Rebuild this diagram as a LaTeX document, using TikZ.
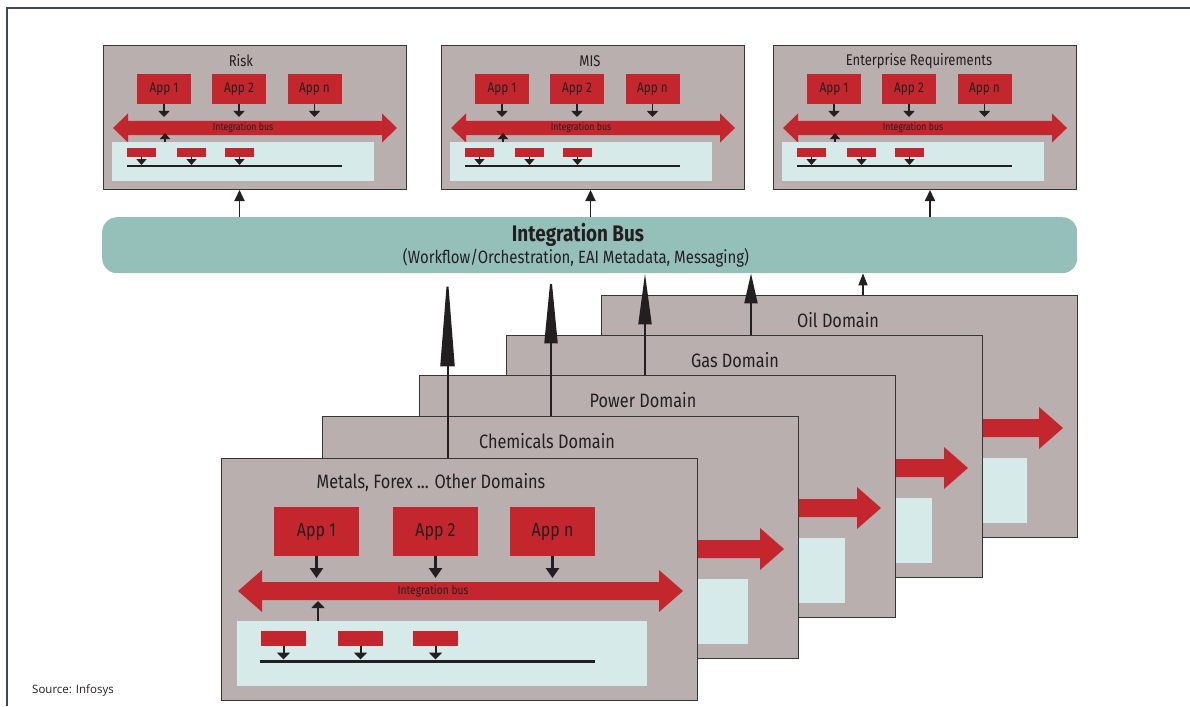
\documentclass[tikz,border=0pt]{standalone}
\usepackage{fontspec}
\setmainfont{Fira Sans}[FakeStretch=0.84]
\newfontfamily\srcfont{Open Sans}
\usetikzlibrary{arrows.meta,calc}
\definecolor{boxgray}{HTML}{B9AFAF}
\definecolor{boxline}{HTML}{3A3535}
\definecolor{busred}{HTML}{C4262E}
\definecolor{paleteal}{HTML}{D6EAEA}
\definecolor{busteal}{HTML}{95C0BA}
\definecolor{framecol}{HTML}{3D4756}
\definecolor{ink}{HTML}{231F20}
\newcommand\fsz[1]{\fontsize{#1}{#1}\selectfont}
\newif\ifdomtext
\tikzset{
  sysbox/.style={draw=boxline, line width=1pt, fill=boxgray, anchor=north west, inner sep=0pt, minimum width=303pt, minimum height=144pt},
  dombox/.style={draw=boxline, line width=1pt, fill=boxgray, anchor=north west, inner sep=0pt, minimum width=476pt, minimum height=242pt},
  appS/.style={fill=busred, inner sep=0pt, minimum width=54pt, minimum height=30pt, text=ink, font=\fsz{14}},
  appL/.style={fill=busred, inner sep=0pt, minimum width=85pt, minimum height=49pt, text=ink, font=\fsz{19}},
  panelS/.style={fill=paleteal, anchor=north west, inner sep=0pt, minimum width=262pt, minimum height=39pt},
  panelL/.style={fill=paleteal, anchor=north west, inner sep=0pt, minimum width=410pt, minimum height=65pt},
  chipS/.style={fill=busred, inner sep=0pt, minimum width=29pt, minimum height=9pt},
  chipL/.style={fill=busred, inner sep=0pt, minimum width=45pt, minimum height=15pt},
  arrS/.style={draw=ink, line width=1.8pt, -{Triangle[length=6pt,width=11pt]}},
  arrSc/.style={draw=ink, line width=1.5pt, -{Triangle[length=6pt,width=10pt]}},
  arrL/.style={draw=ink, line width=2.6pt, -{Triangle[length=10pt,width=13pt]}},
  arrLc/.style={draw=ink, line width=2pt, -{Triangle[length=7pt,width=13pt]}},
  railS/.style={draw=ink, line width=2.4pt},
  railL/.style={draw=ink, line width=3pt},
  bustxtS/.style={text=ink, inner sep=0pt, font=\fsz{10.4}},
  bustxtL/.style={text=ink, inner sep=0pt, font=\fsz{12.2}},
  systitle/.style={text=ink, inner sep=0pt, font=\fsz{15.5}},
  domtitle/.style={text=ink, inner sep=0pt, font=\fsz{19.4}},
  vconn/.style={draw=ink, line width=2pt},
  upconn/.style={draw=ink, line width=1.8pt, -{Triangle[length=11pt,width=10pt]}}
}
% #1 name, #2 x, #3 y, #4 title, #5 title x (local)
\newcommand\sysbox[5]{%
\begin{scope}[shift={(#2,#3)}]
  \node[sysbox] (#1) at (0,0) {};
  \node[systitle] (#1-t) at (#5,16) {#4};
  \node[appS] (#1-a1) at (61,44) {App 1};
  \node[appS] (#1-a2) at (136,44) {App 2};
  \node[appS] (#1-a3) at (211.5,44) {App n};
  \fill[busred] (10,83) -- (25,68.5) -- (25,76) -- (279,76) -- (279,68.5) -- (294,83)
     -- (279,97.5) -- (279,90) -- (25,90) -- (25,97.5) -- cycle;
  \node[bustxtS] (#1-bt) at (140,83) {Integration bus};
  \coordinate (#1-d1) at (61,72);
  \coordinate (#1-d2) at (136,72);
  \coordinate (#1-d3) at (211.5,72);
  \draw[arrS] (#1-a1.south) -- (#1-d1);
  \draw[arrS] (#1-a2.south) -- (#1-d2);
  \draw[arrS] (#1-a3.south) -- (#1-d3);
  \node[panelS] (#1-p) at (9,97) {};
  \node[chipS] (#1-c1) at (38.5,107.5) {};
  \node[chipS] (#1-c2) at (88.5,107.5) {};
  \node[chipS] (#1-c3) at (136.5,107.5) {};
  \coordinate (#1-r0) at (24,121);
  \coordinate (#1-r1) at (239,121);
  \draw[railS] (#1-r0) -- (#1-r1);
  \draw[arrSc] (#1-c1.south) -- ([yshift=1pt]#1-c1.south |- #1-r0);
  \draw[arrSc] (#1-c2.south) -- ([yshift=1pt]#1-c2.south |- #1-r0);
  \draw[arrSc] (#1-c3.south) -- ([yshift=1pt]#1-c3.south |- #1-r0);
  \coordinate (#1-u0) at (62,97);
  \coordinate (#1-u1) at (62,88);
  \draw[arrSc] (#1-u0) -- (#1-u1);
\end{scope}}
% #1 name, #2 x, #3 y, #4 title, #5 title x (local)
\newcommand\dombox[5]{%
\begin{scope}[shift={(#2,#3)}]
  \node[dombox] (#1) at (0,0) {};
  \node[domtitle] (#1-t) at (#5,25) {#4};
  \ifdomtext
    \node[appL] (#1-a1) at (95.5,73.5) {App 1};
    \node[appL] (#1-a2) at (214.5,73.5) {App 2};
    \node[appL] (#1-a3) at (331.5,73.5) {App n};
  \else
    \node[appL] (#1-a1) at (95.5,73.5) {};
    \node[appL] (#1-a2) at (214.5,73.5) {};
    \node[appL] (#1-a3) at (331.5,73.5) {};
  \fi
  \fill[busred] (17,133) -- (41,112) -- (41,124) -- (438,124) -- (438,112) -- (462,133)
     -- (438,154) -- (438,142) -- (41,142) -- (41,154) -- cycle;
  \ifdomtext
    \node[bustxtL] (#1-bt) at (212,133) {Integration bus};
  \fi
  \coordinate (#1-d1) at (95.5,120);
  \coordinate (#1-d2) at (214.5,120);
  \coordinate (#1-d3) at (331.5,120);
  \draw[arrL] (#1-a1.south) -- (#1-d1);
  \draw[arrL] (#1-a2.south) -- (#1-d2);
  \draw[arrL] (#1-a3.south) -- (#1-d3);
  \node[panelL] (#1-p) at (16,163) {};
  \node[chipL] (#1-c1) at (62.5,180.5) {};
  \node[chipL] (#1-c2) at (139.5,180.5) {};
  \node[chipL] (#1-c3) at (214.5,180.5) {};
  \coordinate (#1-r0) at (39,203);
  \coordinate (#1-r1) at (374,203);
  \draw[railL] (#1-r0) -- (#1-r1);
  \draw[arrLc] (#1-c1.south) -- ([yshift=1.5pt]#1-c1.south |- #1-r0);
  \draw[arrLc] (#1-c2.south) -- ([yshift=1.5pt]#1-c2.south |- #1-r0);
  \draw[arrLc] (#1-c3.south) -- ([yshift=1.5pt]#1-c3.south |- #1-r0);
  \coordinate (#1-u0) at (97,163);
  \coordinate (#1-u1) at (97,143);
  \draw[arrLc] (#1-u0) -- (#1-u1);
\end{scope}}
\begin{document}
\begin{tikzpicture}[x=1pt,y=-1pt]
\useasboundingbox (0,0) rectangle (1190,706);
\fill[white] (0,0) rectangle (1190,706);
\coordinate (f0) at (7,706);
\coordinate (f1) at (7,8);
\coordinate (f2) at (1190,8);
\draw[framecol, line width=1.3pt] (f0) -- (f1) -- (f2);

\sysbox{risk}{103}{45}{Risk}{138}
\sysbox{mis}{441}{45}{MIS}{149}
\sysbox{ent}{773}{45}{Enterprise Requirements}{146}

\node[fill=busteal, rounded corners=15pt, inner sep=0pt, minimum width=975pt, minimum height=56pt, anchor=north west] (bus) at (102,217) {};
\node[text=ink, inner sep=0pt, font=\bfseries\fsz{22.5}] (bus-t) at (578,235) {Integration Bus};
\node[text=ink, inner sep=0pt, font=\fsz{17.8}] (bus-s) at (576,258) {(Workflow/Orchestration, EAI Metadata, Messaging)};

\draw[upconn] ([xshift=-15.5pt]risk.south |- bus.north) -- ([xshift=-15.5pt]risk.south);
\draw[upconn] ([xshift=-2.5pt]mis.south |- bus.north) -- ([xshift=-2.5pt]mis.south);
\draw[upconn] ([xshift=5pt]ent.south |- bus.north) -- ([xshift=5pt]ent.south);

\domtextfalse
\dombox{oil}{601}{295}{Oil Domain}{237}
\dombox{gas}{506}{335}{Gas Domain}{229}
\dombox{pow}{419}{375}{Power Domain}{224}
\dombox{che}{322}{416}{Chemicals Domain}{225}
\domtexttrue
\dombox{met}{221}{458}{Metals, Forex ... Other Domains}{210}

\draw[vconn, -{Triangle[length=93pt,width=14pt]}] ([xshift=-12pt]met.north) -- ([xshift=-12pt]met.north |- bus.south);
\draw[vconn, -{Triangle[length=70pt,width=13pt]}] ([xshift=-9.5pt]che.north) -- ([xshift=-9.5pt]che.north |- bus.south);
\draw[vconn, -{Triangle[length=51pt,width=13pt]}] ([xshift=-12.5pt]pow.north) -- ([xshift=-12.5pt]pow.north |- bus.south);
\draw[vconn, -{Triangle[length=30pt,width=13pt]}] ([xshift=6.5pt]gas.north) -- ([xshift=6.5pt]gas.north |- bus.south);
\draw[vconn, line width=1.6pt, -{Triangle[length=12pt,width=9pt]}] ([xshift=23.5pt]oil.north) -- ([xshift=23.5pt]oil.north |- bus.south);

\node[text=ink, inner sep=0pt, anchor=west, font=\srcfont\fsz{11.5}] (src) at (32,690) {Source: Infosys};
\end{tikzpicture}
\end{document}
